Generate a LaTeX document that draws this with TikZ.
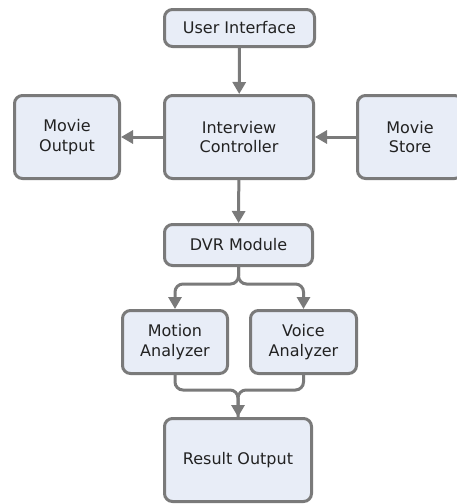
\documentclass[tikz,border=0pt]{standalone}
\usepackage{fontspec}
\setmainfont{DejaVu Sans}
\usepackage{tikz}
\usetikzlibrary{arrows.meta}
\definecolor{boxfill}{HTML}{E8EDF7}
\definecolor{boxline}{HTML}{7A7A7A}
\definecolor{boxtext}{HTML}{222222}
\tikzset{
	block/.style={draw=boxline, fill=boxfill, line width=3pt, rounded corners=8pt,
		align=center, text=boxtext, inner sep=0pt,
		font=\fontsize{16}{19.5}\selectfont},
	link/.style={draw=boxline, line width=3pt, rounded corners=8pt,
		-{Triangle[width=13pt,length=12pt]}}
}

\begin{document}
\begin{tikzpicture}[x=1pt,y=-1pt]
			%%%%% START %%%%%
			
			\clip (0, 0) rectangle (457, 504);
			\fill[white] (0, 0) rectangle (457, 504);
			
			\node[block, minimum width=150, minimum height=37] (ui) at (239.5, 28) {User Interface};
			\node[block, minimum width=149, minimum height=83] (ic) at (239, 137) {Interview\\Controller};
			\node[block, minimum width=105, minimum height=83] (mo) at (67, 137) {Movie\\Output};
			\node[block, minimum width=105, minimum height=83] (ms) at (410, 137) {Movie\\Store};
			\node[block, minimum width=148, minimum height=41] (dvr) at (238.5, 245) {DVR Module};
			\node[block, minimum width=105, minimum height=63] (ma) at (175, 342) {Motion\\Analyzer};
			\node[block, minimum width=106, minimum height=63] (va) at (303.5, 342) {Voice\\Analyzer};
			\node[block, minimum width=147, minimum height=83] (ro) at (238, 460) {Result Output};
			
			\draw[link] (ui) -- (ic);
			\draw[link] (ic) -- (mo);
			\draw[link] (ms) -- (ic);
			\draw[link] (ic) -- (dvr);
			
			\draw[link] (dvr.south) -- ++(0, 17) -| (ma.north);
			\draw[link] (dvr.south) -- ++(0, 17) -| (va.north);
			
			\draw[link, -] (ma.south) -- ++(0, 15) -| (ro.north);
			\draw[link] (va.south) -- ++(0, 15) -| (ro.north);
			
			%%%%% END %%%%%
\end{tikzpicture}
\end{document}
